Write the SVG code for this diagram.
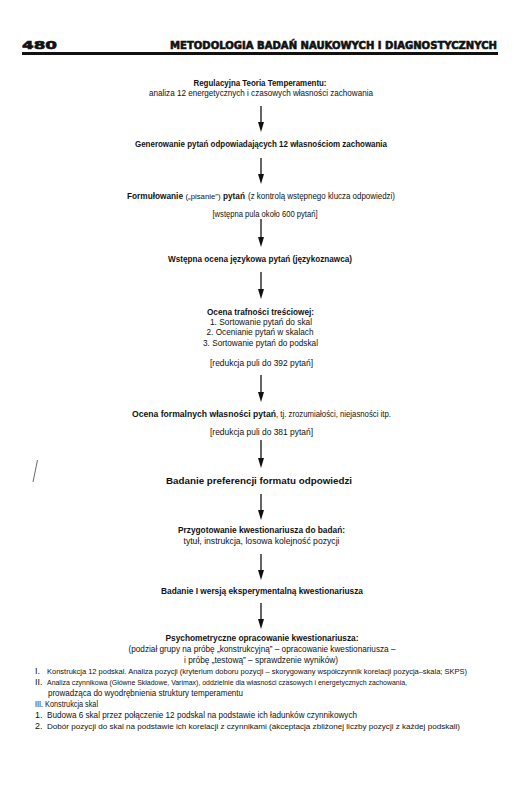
<svg xmlns="http://www.w3.org/2000/svg" width="514" height="788" viewBox="0 0 514 788">
<style>
text{font-family:"Liberation Sans",Arial,sans-serif;font-size:9px;fill:#111}
.c{text-anchor:middle}
.b{font-weight:bold}
.s{font-size:8px}
.h{font-family:"DejaVu Sans",sans-serif;font-weight:bold;font-size:10px;stroke:#111;stroke-width:0.6}
.ar{stroke:#111;stroke-width:1.3;fill:none}
.hd{fill:#111}
</style>
<rect width="514" height="788" fill="#fff"/>
<g id="header">
<text class="h" x="22" y="49" textLength="35" lengthAdjust="spacingAndGlyphs" style="font-size:11px">480</text>
<text class="h" x="497" y="49" text-anchor="end" textLength="327" lengthAdjust="spacingAndGlyphs">METODOLOGIA BADAŃ NAUKOWYCH I DIAGNOSTYCZNYCH</text>
<line x1="22" y1="53.5" x2="498" y2="53.5" stroke="#111" stroke-width="3"/>
</g>
<g id="connectors">
<path class="ar" d="M261,106 V123"/><path class="hd" d="M258,122 L264,122 L261,132 Z"/>
<path class="ar" d="M261,158 V175"/><path class="hd" d="M258,174 L264,174 L261,184 Z"/>
<path class="ar" d="M261,219 V238"/><path class="hd" d="M258,237 L264,237 L261,247 Z"/>
<path class="ar" d="M261,272 V290"/><path class="hd" d="M258,289 L264,289 L261,299 Z"/>
<path class="ar" d="M261,375 V393"/><path class="hd" d="M258,392 L264,392 L261,402 Z"/>
<path class="ar" d="M261,440 V459"/><path class="hd" d="M258,458 L264,458 L261,468 Z"/>
<path class="ar" d="M261,494 V511"/><path class="hd" d="M258,510 L264,510 L261,520 Z"/>
<path class="ar" d="M261,554 V571"/><path class="hd" d="M258,570 L264,570 L261,580 Z"/>
<path class="ar" d="M261,603 V620"/><path class="hd" d="M258,619 L264,619 L261,629 Z"/>
</g>
<g id="n1">
<text class="c b" x="260" y="86" textLength="133" lengthAdjust="spacingAndGlyphs">Regulacyjna Teoria Temperamentu:</text>
<text class="c" x="261" y="96" textLength="224" lengthAdjust="spacingAndGlyphs">analiza 12 energetycznych i czasowych własności zachowania</text>
</g>
<g id="n2">
<text class="c b" x="261" y="147" textLength="252" lengthAdjust="spacingAndGlyphs">Generowanie pytań odpowiadających 12 własnościom zachowania</text>
</g>
<g id="n3">
<text class="b" x="127" y="199" textLength="56" lengthAdjust="spacingAndGlyphs">Formułowanie</text>
<text x="185.5" y="199" textLength="35" lengthAdjust="spacingAndGlyphs" style="font-size:8px">(„pisanie”)</text>
<text class="b" x="223" y="199" textLength="22" lengthAdjust="spacingAndGlyphs">pytań</text>
<text x="248" y="199" textLength="147" lengthAdjust="spacingAndGlyphs">(z kontrolą wstępnego klucza odpowiedzi)</text>
<text class="c" x="265" y="217" textLength="105" lengthAdjust="spacingAndGlyphs">[wstępna pula około 600 pytań]</text>
</g>
<g id="n4">
<text class="c b" x="260" y="262" textLength="184" lengthAdjust="spacingAndGlyphs">Wstępna ocena językowa pytań (językoznawca)</text>
</g>
<g id="n5">
<text class="c b" x="260.5" y="315" textLength="107" lengthAdjust="spacingAndGlyphs">Ocena trafności treściowej:</text>
<text class="c" x="261" y="325" textLength="102" lengthAdjust="spacingAndGlyphs">1. Sortowanie pytań do skal</text>
<text class="c" x="260" y="335" textLength="107" lengthAdjust="spacingAndGlyphs">2. Ocenianie pytań w skalach</text>
<text class="c" x="260.5" y="346" textLength="115" lengthAdjust="spacingAndGlyphs">3. Sortowanie pytań do podskal</text>
<text class="c" x="261.5" y="366" textLength="103" lengthAdjust="spacingAndGlyphs">[redukcja puli do 392 pytań]</text>
</g>
<g id="n6">
<text class="b" x="132" y="417" textLength="144" lengthAdjust="spacingAndGlyphs">Ocena formalnych własności pytań</text>
<text x="276" y="417" textLength="115" lengthAdjust="spacingAndGlyphs">, tj. zrozumiałości, niejasności itp.</text>
<text class="c" x="261.5" y="435" textLength="103" lengthAdjust="spacingAndGlyphs">[redukcja puli do 381 pytań]</text>
</g>
<g id="n7">
<text class="c b" x="259" y="484" textLength="186" lengthAdjust="spacingAndGlyphs" style="font-size:8.5px">Badanie preferencji formatu odpowiedzi</text>
</g>
<g id="n8">
<text class="c b" x="261.5" y="533" textLength="167" lengthAdjust="spacingAndGlyphs">Przygotowanie kwestionariusza do badań:</text>
<text class="c" x="261.5" y="544" textLength="156" lengthAdjust="spacingAndGlyphs">tytuł, instrukcja, losowa kolejność pozycji</text>
</g>
<g id="n9">
<text class="c b" x="262" y="594" textLength="202" lengthAdjust="spacingAndGlyphs">Badanie I wersją eksperymentalną kwestionariusza</text>
</g>
<g id="n10">
<text class="c b" x="262" y="641" textLength="193" lengthAdjust="spacingAndGlyphs">Psychometryczne opracowanie kwestionariusza:</text>
<text class="c" x="262" y="652" textLength="267" lengthAdjust="spacingAndGlyphs">(podział grupy na próbę „konstrukcyjną” – opracowanie kwestionariusza –</text>
<text class="c" x="261" y="663" textLength="154" lengthAdjust="spacingAndGlyphs">i próbę „testową” – sprawdzenie wyników)</text>
<text x="35" y="674">I.</text>
<text class="s" x="47" y="674" textLength="420" lengthAdjust="spacingAndGlyphs">Konstrukcja 12 podskal. Analiza pozycji (kryterium doboru pozycji – skorygowany współczynnik korelacji pozycja–skala; SKPS)</text>
<text x="35" y="685">II.</text>
<text class="s" x="47" y="685" textLength="360" lengthAdjust="spacingAndGlyphs">Analiza czynnikowa (Główne Składowe, Varimax), oddzielnie dla własności czasowych i energetycznych zachowania,</text>
<text x="48" y="696" textLength="195" lengthAdjust="spacingAndGlyphs">prowadząca do wyodrębnienia struktury temperamentu</text>
<text x="35" y="707" textLength="63" lengthAdjust="spacingAndGlyphs">III. Konstrukcja skal</text>
<text x="35" y="718">1.</text>
<text x="47" y="718" textLength="310" lengthAdjust="spacingAndGlyphs">Budowa 6 skal przez połączenie 12 podskal na podstawie ich ładunków czynnikowych</text>
<text x="35" y="729">2.</text>
<text class="s" x="47" y="729" textLength="413" lengthAdjust="spacingAndGlyphs">Dobór pozycji do skal na podstawie ich korelacji z czynnikami (akceptacja zbliżonej liczby pozycji z każdej podskali)</text>
</g>
<line x1="33" y1="482" x2="37.5" y2="460" stroke="#444" stroke-width="0.8"/>
</svg>
